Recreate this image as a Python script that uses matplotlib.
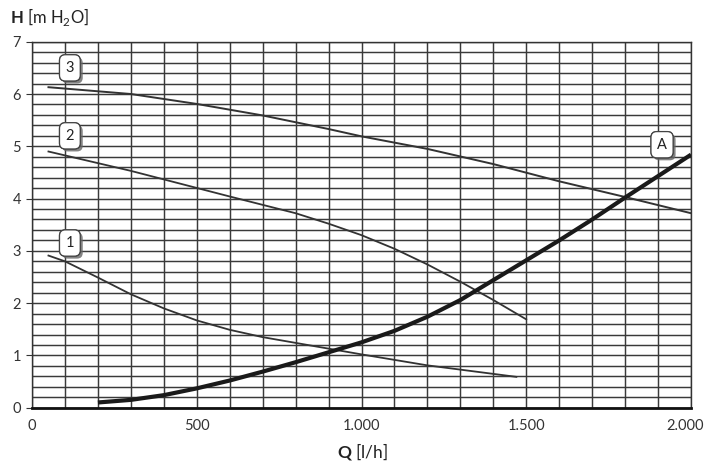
import matplotlib
matplotlib.use("Agg")
import matplotlib.pyplot as plt
import matplotlib.patheffects as pe
import matplotlib.transforms as mtransforms
import numpy as np

plt.rcParams["font.family"] = ["Lato", "DejaVu Sans"]
plt.rcParams["mathtext.fontset"] = "custom"
plt.rcParams["mathtext.rm"] = "Lato"
plt.rcParams["mathtext.bf"] = "Lato:bold"

# pump curves (Q in l/h, H in m H2O)
q1 = [50, 100, 200, 300, 400, 500, 600, 700, 800, 1000, 1200, 1470]
h1 = [2.91, 2.8, 2.49, 2.17, 1.9, 1.67, 1.49, 1.35, 1.24, 1.02, 0.81, 0.59]

q2 = [50, 300, 600, 800, 900, 1000, 1100, 1200, 1300, 1400, 1500]
h2 = [4.9, 4.53, 4.04, 3.72, 3.52, 3.3, 3.04, 2.74, 2.41, 2.06, 1.69]

q3 = [50, 300, 500, 700, 900, 1000, 1200, 1400, 1600, 1800, 2000]
h3 = [6.13, 6.0, 5.81, 5.59, 5.33, 5.19, 4.95, 4.66, 4.33, 4.03, 3.72]

# system curve A
qa = [200, 300, 400, 500, 600, 700, 800, 900, 1000, 1100, 1200, 1300, 1400, 1500, 1600, 1700, 1800, 1900, 2000]
ha = [0.1, 0.15, 0.24, 0.37, 0.52, 0.69, 0.87, 1.06, 1.25, 1.47, 1.74, 2.06, 2.44, 2.82, 3.2, 3.6, 4.02, 4.43, 4.84]

x_ticks = [0, 500, 1000, 1500, 2000]
x_labels = ["0", "500", "1.000", "1.500", "2.000"]

fig = plt.figure(figsize=(7.06, 4.62), dpi=100)
ax = fig.add_axes([0.0453, 0.1175, 0.9335, 0.7922])

ax.set_xlim(0, 2000)
ax.set_ylim(0, 7)
ax.set_xticks(x_ticks)
ax.set_xticklabels(x_labels)
ax.set_yticks(range(8))
ax.set_xticks(np.arange(0, 2001, 100), minor=True)
ax.set_yticks(np.arange(0, 7.01, 0.2), minor=True)
ax.grid(which="both", color="#3a3a3a", linewidth=1.05)
ax.tick_params(which="major", length=4, width=0.8, color="#333333",
               labelsize=10.5, labelcolor="#333333", pad=4)
ax.tick_params(which="minor", length=0)
ax.tick_params(axis="x", length=0, pad=8)
for s in ax.spines.values():
    s.set_color("#333333")
    s.set_linewidth(1.0)
ax.spines["bottom"].set_linewidth(2)
ax.spines["bottom"].set_color("#111111")

# nudge the last x label so it stays inside the figure
last = ax.xaxis.get_major_ticks()[-1].label1
last.set_transform(last.get_transform() + mtransforms.ScaledTranslation(-4 / 72, 0, fig.dpi_scale_trans))

line_col = "#333333"
ax.plot(q1, h1, color=line_col, lw=1.3, zorder=3)
ax.plot(q2, h2, color=line_col, lw=1.3, zorder=3)
ax.plot(q3, h3, color=line_col, lw=1.4, zorder=3)
ax.plot(qa, ha, color="#1a1a1a", lw=3.0, solid_capstyle="butt", zorder=4)

# curve labels in rounded boxes with a small shadow
for txt, qx, hy in [("3", 115, 6.5), ("2", 115, 5.2), ("1", 115, 3.15), ("A", 1912, 5.03)]:
    t = ax.text(qx, hy, txt, ha="center", va="center", fontsize=10.5, color="#222222", zorder=6,
                bbox=dict(boxstyle="round,pad=0.42,rounding_size=0.4", fc="white", ec="#444444", lw=0.9))
    t.get_bbox_patch().set_path_effects([pe.withSimplePatchShadow(offset=(1.8, -1.8), shadow_rgbFace="#666666", alpha=0.8), pe.Normal()])

fig.text(0.014, 0.963, r"$\mathbf{H}$ [m H$_2$O]", fontsize=12, color="#222222", va="center", ha="left")
fig.text(0.513, 0.022, r"$\mathbf{Q}$ [l/h]", fontsize=12.5, color="#222222", va="center", ha="center")

fig.savefig("out.png", dpi=100)
